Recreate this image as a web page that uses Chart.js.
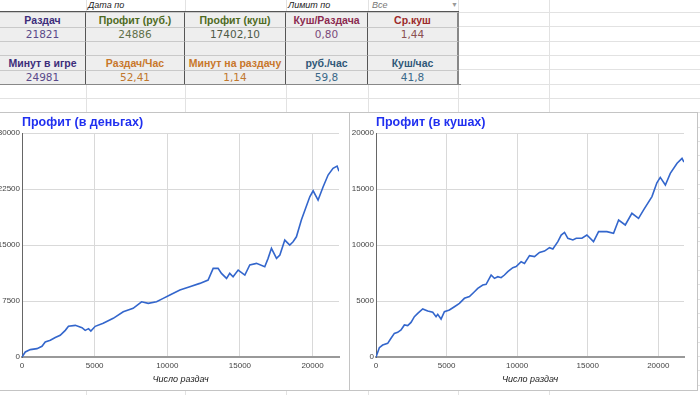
<!DOCTYPE html>
<html><head><meta charset="utf-8">
<script src="https://cdn.jsdelivr.net/npm/chart.js@4"></script>
<style>
body{margin:0;width:700px;height:395px;overflow:hidden;background:#fff;font-family:"Liberation Sans",Arial,sans-serif;position:relative}
.h{position:absolute;height:1px;background:#e2e2e2}
.v{position:absolute;width:1px;background:#e2e2e2}
.cell{position:absolute;background:#eeeeee;box-sizing:border-box;text-align:center;white-space:nowrap;font-size:10.5px;font-family:"DejaVu Sans",sans-serif;border-right:1px solid #555;border-top:1px solid #c9c9c9;}
.cell.b{font-family:"Liberation Sans",Arial,sans-serif;font-weight:bold;font-size:10.5px}
.top{position:absolute;font-size:9px;font-style:italic;color:#222;white-space:nowrap}
.panel{position:absolute;background:#fff;border:1px solid #c4c4c4;box-sizing:border-box}
.ctitle{position:absolute;font-weight:bold;font-size:12.5px;line-height:15px;color:#2030f0;white-space:nowrap}
canvas{position:absolute}
</style></head><body>
<div id="grid"></div>
<div id="table"></div>
<div class="panel" style="left:-1px;top:112px;width:351px;height:279px"></div>
<div class="panel" style="left:349px;top:112px;width:349px;height:279px"></div>
<canvas id="c1" width="348" height="277" style="left:0;top:113px"></canvas>
<canvas id="c2" width="345" height="277" style="left:351px;top:113px"></canvas>
<div class="ctitle" id="t1" style="left:22px;top:115px"></div>
<div class="ctitle" id="t2" style="left:376px;top:115px"></div>
<script>
// ---- data ----
const topLabels = ['Дата по', 'Лимит по', 'Все'];
const headers1 = ['Раздач', 'Профит (руб.)', 'Профит (куш)', 'Куш/Раздача', 'Ср.куш'];
const values1 = ['21821', '24886', '17402,10', '0,80', '1,44'];
const headers2 = ['Минут в игре', 'Раздач/Час', 'Минут на раздачу', 'руб./час', 'Куш/час'];
const values2 = ['24981', '52,41', '1,14', '59,8', '41,8'];

const chartTitles = ['Профит (в деньгах)', 'Профит (в кушах)'];
const xAxisTitle = 'Число раздач';
const totalHands = 21821;
const xTicks = [0, 5000, 10000, 15000, 20000];

const handsRub = [0,227,570,1030,1375,1600,1950,2290,2630,2980,3200,3670,4130,4350,4580,4740,5040,5590,6280,6970,7650,8230,8690,9260,9720,10180,10870,11550,12240,12810,13160,13500,13730,14080,14300,14530,14880,15340,15680,16140,16710,16940,17170,17520,17750,18090,18430,18660,18890,19230,19810,20040,20380,20730,21070,21410,21690,21821];
const profitRub = [0,670,990,1120,1430,2010,2240,2600,2900,3570,4110,4240,3930,3570,3800,3480,4110,4510,5180,6060,6520,7400,7190,7400,7850,8300,8970,9410,9860,10300,11870,11870,11200,10530,11200,10750,11650,10980,12320,12540,12090,13210,14550,13210,13650,15660,15000,15440,16100,18340,21460,22260,21020,22800,24370,25260,25570,24886];

const handsKush = [0,236,473,827,1064,1300,1537,1773,2010,2246,2482,2719,2955,3310,3664,4019,4255,4373,4610,4846,5200,5555,5910,6264,6619,6974,7210,7565,7801,8156,8392,8629,8865,9101,9338,9692,9929,10283,10520,10874,11229,11583,11938,12292,12529,12884,13120,13357,13593,13948,14184,14590,14940,15410,15770,16360,16830,17190,17660,18130,18600,18960,19550,19900,20140,20500,20850,21330,21680,21821];
const profitKush = [0,830,1070,1220,1670,2110,2200,2410,2860,2800,3090,3600,3900,4290,4110,3990,3600,3810,3390,4050,4200,4490,4790,5240,5390,5830,6130,6430,6490,7320,7020,7170,7080,7320,7620,7980,8070,8510,8360,9050,8960,9340,9460,9760,9640,10300,10890,11130,10600,10450,10600,10600,10890,10300,11190,11190,11040,12230,11790,12830,12380,13130,14320,15560,16040,15360,16400,17300,17740,17402];

const yTicksRub = [0, 7500, 15000, 22500, 30000];
const yTicksKush = [0, 5000, 10000, 15000, 20000];

// ---- spreadsheet background grid ----
const grid = document.getElementById('grid');
for (let k = 0; k < 28; k++) {
  const y = Math.round(12 + k * 14.33);
  const d = document.createElement('div'); d.className = 'h'; d.style.cssText = `left:0;top:${y}px;width:700px`; grid.appendChild(d);
}
[86, 185, 286, 368, 458, 549].forEach(x => { const d = document.createElement('div'); d.className = 'v'; d.style.cssText = `left:${x}px;top:0;height:395px`; grid.appendChild(d); });

// ---- table ----
const tbl = document.getElementById('table');
const cx = [0, 86, 185, 286, 368, 459];
const rowTop = [12, 27, 41, 55, 70, 84];
const cH1 = ['#3c2d7a', '#4e6a22', '#4e6a22', '#8b2a4e', '#9b2a2a'];
const cV1 = ['#5a4a8a', '#5f7048', '#4f5a48', '#7a4a7a', '#8a5050'];
const cH2 = ['#3c2d7a', '#c8772a', '#c8772a', '#305878', '#305878'];
const cV2 = ['#5a4a8a', '#c0782e', '#c0782e', '#3a6888', '#3a6888'];
const rowsDef = [[headers1, cH1, true], [values1, cV1, false], [null, null, false], [headers2, cH2, true], [values2, cV2, false]];
rowsDef.forEach((r, ri) => {
  for (let ci = 0; ci < 5; ci++) {
    const d = document.createElement('div');
    d.className = 'cell' + (r[2] ? ' b' : '');
    const h = rowTop[ri + 1] - rowTop[ri];
    d.style.cssText = `left:${cx[ci]}px;top:${rowTop[ri]}px;width:${cx[ci + 1] - cx[ci]}px;height:${h}px;line-height:${h - 1}px;` + (ci === 4 ? 'border-right:2px solid #888;' : '');
    if (r[0]) { d.textContent = r[0][ci]; d.style.color = r[1][ci]; }
    tbl.appendChild(d);
  }
});
const line = document.createElement('div');
line.style.cssText = 'position:absolute;left:0;top:11px;width:459px;height:1px;background:#555';
tbl.appendChild(line);
const line2 = document.createElement('div');
line2.style.cssText = 'position:absolute;left:0;top:84px;width:461px;height:1px;background:#888';
tbl.appendChild(line2);
const topX = [88, 288, 372];
topLabels.forEach((t, i) => {
  const d = document.createElement('div'); d.className = 'top';
  d.style.cssText = `left:${topX[i]}px;top:0px;line-height:11px;` + (i === 2 ? 'color:#777' : '');
  d.textContent = t; tbl.appendChild(d);
});
const arr = document.createElement('div'); arr.className = 'top';
arr.style.cssText = 'left:451px;top:0;line-height:10px;font-style:normal;font-size:7px;color:#999';
arr.textContent = '▼'; tbl.appendChild(arr);

document.getElementById('t1').textContent = chartTitles[0];
document.getElementById('t2').textContent = chartTitles[1];

// ---- charts ----
function makeChart(id, xs, ys, yTicks, yAxisW, padRight) {
  return new Chart(document.getElementById(id), {
    type: 'line',
    data: { datasets: [{ data: xs.map((x, i) => ({ x: x, y: ys[i] })), borderColor: '#3366cc', borderWidth: 1.6, pointRadius: 0, tension: 0, fill: false }] },
    options: {
      responsive: false, animation: false, devicePixelRatio: 1,
      layout: { padding: { top: 20, right: padRight, left: 0, bottom: 0 } },
      plugins: { legend: { display: false }, tooltip: { enabled: false } },
      scales: {
        x: {
          type: 'linear', min: 0, max: totalHands,
          afterBuildTicks(s) { s.ticks = xTicks.map(v => ({ value: v })); },
          ticks: { font: { size: 8, family: '"Liberation Sans", Arial' }, color: '#444', padding: 4, maxRotation: 0, autoSkip: false, callback: v => String(v) },
          grid: { color: '#d9d9d9', drawTicks: false },
          border: { color: '#999', width: 2 },
          title: { display: true, text: xAxisTitle, font: { size: 9, style: 'italic', family: '"Liberation Sans", Arial' }, color: '#222', padding: { top: 0, bottom: 5 } },
          afterFit(s) { s.height = 33; }
        },
        y: {
          min: yTicks[0], max: yTicks[yTicks.length - 1],
          afterBuildTicks(s) { s.ticks = yTicks.map(v => ({ value: v })); },
          ticks: { font: { size: 8, family: '"Liberation Sans", Arial' }, color: '#444', padding: 2, autoSkip: false, callback: v => String(v) },
          grid: { color: '#d9d9d9', drawTicks: false },
          border: { color: '#666', width: 1 },
          afterFit(s) { s.width = yAxisW; }
        }
      }
    }
  });
}
makeChart('c1', handsRub, profitRub, yTicksRub, 22, 9);
makeChart('c2', handsKush, profitKush, yTicksKush, 25, 12);
</script>
</body></html>
